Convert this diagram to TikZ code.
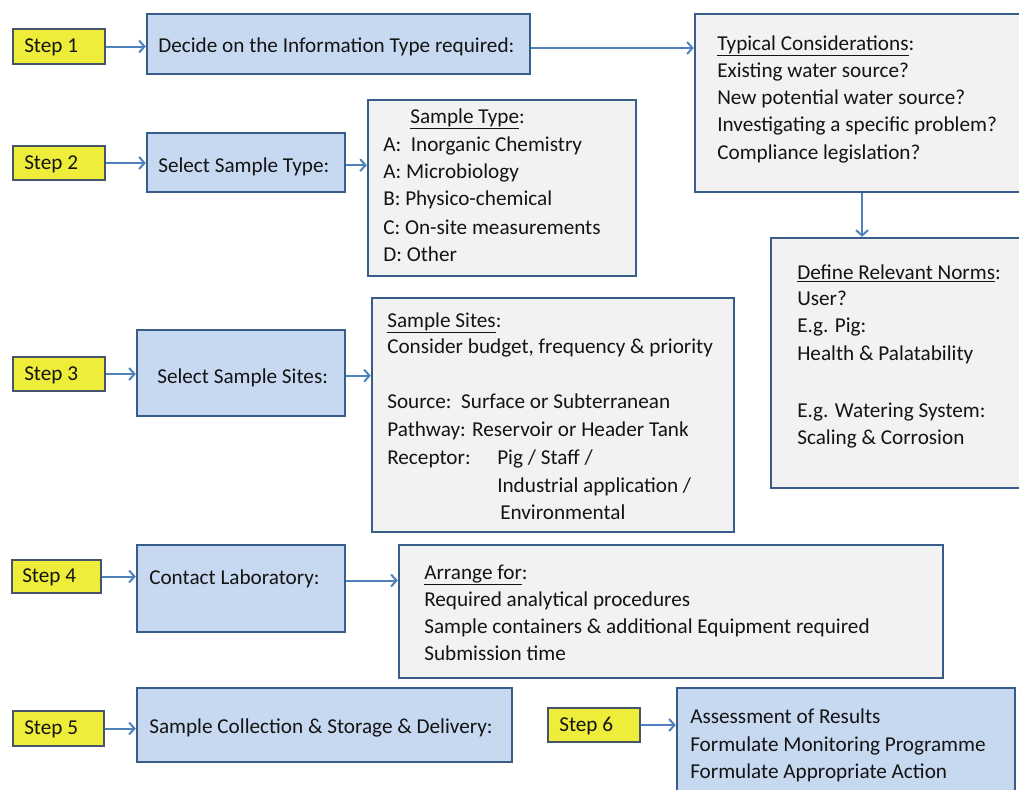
\documentclass[tikz,border=0pt]{standalone}
\usepackage{fontspec}
\setmainfont{Carlito}
\usetikzlibrary{arrows.meta,fit}
\definecolor{connblue}{RGB}{79,129,189}
\definecolor{bluefill}{RGB}{198,217,241}
\definecolor{blueline}{RGB}{56,93,138}
\definecolor{stepfill}{RGB}{238,238,58}
\definecolor{stepline}{RGB}{70,85,105}
\definecolor{greyfill}{RGB}{242,242,242}
\definecolor{ink}{RGB}{20,20,20}
\newcommand{\ttl}[1]{\underline{#1}}
\tikzset{
  bluebox/.style={draw=blueline, line width=1.8pt, fill=bluefill, inner sep=0pt},
  greybox/.style={draw=blueline, line width=1.8pt, fill=greyfill, inner sep=0pt},
  stepbox/.style={draw=stepline, line width=1.5pt, fill=stepfill, inner sep=0pt},
  txt/.style={anchor=base west, inner sep=0pt, text=ink, font=\fontsize{15.9}{19}\selectfont},
  conn/.style={draw=connblue, line width=1.5pt, -{Straight Barb[length=4pt,width=9pt,line width=1.5pt]}}
}
\begin{document}
\begin{tikzpicture}[x=0.75pt,y=-0.75pt]
\useasboundingbox (0,0) rectangle (1019,789);
\clip (0,0) rectangle (1019,789);

% step labels
\node[stepbox, fit={(13,29) (105,64)}] (s1) {};
\node[stepbox, fit={(13,146) (105,180)}] (s2) {};
\node[stepbox, fit={(13,357) (105,391)}] (s3) {};
\node[stepbox, fit={(12,560) (101,593)}] (s4) {};
\node[stepbox, fit={(13,711) (104,746)}] (s5) {};
\node[stepbox, fit={(548,708) (640,742)}] (s6) {};
\node[txt] (s1t) at (24,52) {Step 1};
\node[txt] (s2t) at (24,169) {Step 2};
\node[txt] (s3t) at (24,380) {Step 3};
\node[txt] (s4t) at (22,582) {Step 4};
\node[txt] (s5t) at (24,734) {Step 5};
\node[txt] (s6t) at (559,731) {Step 6};

% action boxes
\node[bluebox, fit={(147,14) (530,74)}] (b1) {};
\node[bluebox, fit={(147,133) (345,192)}] (b2) {};
\node[bluebox, fit={(137,330) (345,416)}] (b3) {};
\node[bluebox, fit={(137,545) (345,632)}] (b4) {};
\node[bluebox, fit={(137,688) (512,762)}] (b5) {};
\node[bluebox, fit={(677,688) (1015,800)}] (b6) {};
\node[txt] (b1t) at (158,52) {Decide on the Information Type required:};
\node[txt] (b2t) at (158,172) {Select Sample Type:};
\node[txt] (b3t) at (157,383) {Select Sample Sites:};
\node[txt] (b4t) at (149,584) {Contact Laboratory:};
\node[txt] (b5t) at (149,733) {Sample Collection \& Storage \& Delivery:};
\node[txt] (b6a) at (690,723) {Assessment of Results};
\node[txt] (b6b) at (690,751) {Formulate Monitoring Programme};
\node[txt] (b6c) at (690,778) {Formulate Appropriate Action};

% detail boxes
\node[greybox, fit={(695,14) (1030,192)}] (typ) {};
\node[greybox, fit={(771,238) (1030,488)}] (def) {};
\node[greybox, fit={(368,100) (636,276)}] (stype) {};
\node[greybox, fit={(372,298) (734,532)}] (sites) {};
\node[greybox, fit={(399,545) (943,678)}] (arr) {};

\node[txt] (ta) at (717,50) {\ttl{Typical Considerations}:};
\node[txt] (tb) at (717,77) {Existing water source?};
\node[txt] (tc) at (717,104) {New potential water source?};
\node[txt] (td) at (717,131) {Investigating a specific problem?};
\node[txt] (te) at (717,159) {Compliance legislation?};

\node[txt] (da) at (797,279) {\ttl{Define Relevant Norms}:};
\node[txt] (db) at (797,305) {User?};
\node[txt] (dc) at (797,332) {E.g. Pig:};
\node[txt] (dd) at (797,360) {Health \& Palatability};
\node[txt] (de) at (797,417) {E.g. Watering System:};
\node[txt] (df) at (797,444) {Scaling \& Corrosion};

\node[txt] (ya) at (410,123) {\ttl{Sample Type}:};
\node[txt] (yb) at (383,151) {A:\ \ Inorganic Chemistry};
\node[txt] (yc) at (383,178) {A: Microbiology};
\node[txt] (yd) at (383,205) {B: Physico-chemical};
\node[txt] (ye) at (383,234) {C: On-site measurements};
\node[txt] (yf) at (383,261) {D: Other};

\node[txt] (xa) at (387,327) {\ttl{Sample Sites}:};
\node[txt] (xb) at (387,353) {Consider budget, frequency \& priority};
\node[txt] (xc) at (387,408) {Source:\ \ Surface or Subterranean};
\node[txt] (xd) at (387,436) {Pathway: Reservoir or Header Tank};
\node[txt] (xe) at (387,464) {Receptor:};
\node[txt] (xf) at (497,464) {Pig / Staff /};
\node[txt] (xg) at (497,492) {Industrial application /};
\node[txt] (xh) at (500,519) {Environmental};

\node[txt] (aa) at (424,579) {\ttl{Arrange for}:};
\node[txt] (ab) at (424,606) {Required analytical procedures};
\node[txt] (ac) at (424,633) {Sample containers \& additional Equipment required};
\node[txt] (ad) at (424,660) {Submission time};

% connectors
\coordinate (down) at (862,0);
\draw[conn] (s1.east) -- (s1.east -| b1.west);
\draw[conn] ([yshift=-3pt]b1.east) -- ([yshift=-3pt]b1.east -| typ.west);
\draw[conn] (typ.south -| down) -- (def.north -| down);
\draw[conn] (s2.east) -- (s2.east -| b2.west);
\draw[conn] ([yshift=-2pt]b2.east) -- ([yshift=-2pt]b2.east -| stype.west);
\draw[conn] (s3.east) -- (s3.east -| b3.west);
\draw[conn] ([yshift=-2pt]b3.east) -- ([yshift=-2pt]b3.east -| sites.west);
\draw[conn] (s4.east) -- (s4.east -| b4.west);
\draw[conn] ([yshift=6pt]b4.east) -- ([yshift=6pt]b4.east -| arr.west);
\draw[conn] (s5.east) -- (s5.east -| b5.west);
\draw[conn] (s6.east) -- (s6.east -| b6.west);
\end{tikzpicture}
\end{document}
